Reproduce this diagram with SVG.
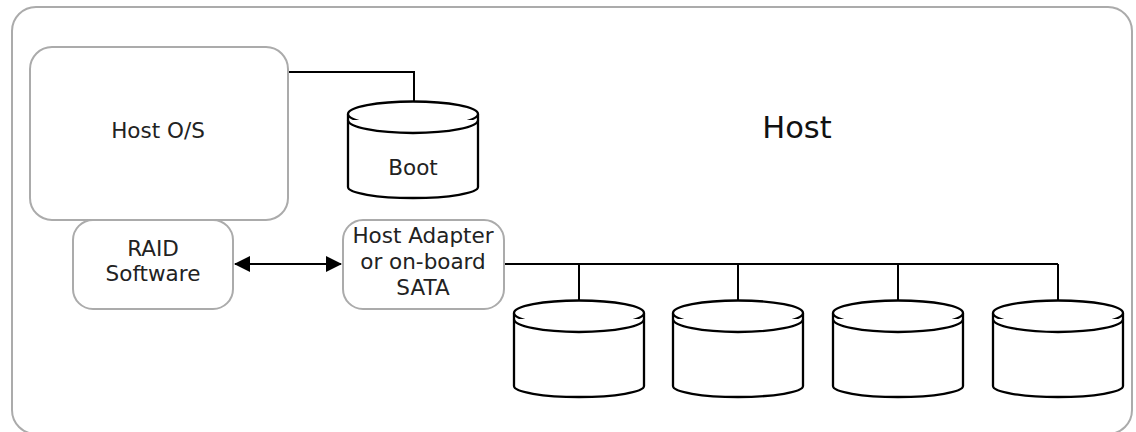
<svg xmlns="http://www.w3.org/2000/svg" width="1136" height="432" viewBox="0 0 1136 432">
<defs>
<style>
.box{fill:#fff;stroke:#ababab;stroke-width:2}
.ln{fill:none;stroke:#000;stroke-width:2}
.cyl{fill:#fff;stroke:#000;stroke-width:2.3}
.t{font-family:"DejaVu Sans",Verdana,sans-serif;font-size:21.5px;fill:#222;text-anchor:middle}
.big{font-size:30.5px;fill:#111}
</style>
<marker id="ah" viewBox="0 0 16 16" refX="15" refY="8" markerWidth="16" markerHeight="16" markerUnits="userSpaceOnUse" orient="auto-start-reverse">
<path d="M0,0 L16,8 L0,16 Z" fill="#000"/>
</marker>
<g id="cylshape">
<path class="cyl" d="M0,13 L0,86 A65,11 0 0 0 130,86 L130,13"/>
<ellipse class="cyl" cx="65" cy="13" rx="65" ry="12.5"/>
<path class="cyl" d="M0,19 A65,13 0 0 0 130,19"/>
</g>
</defs>
<g id="host">
<rect class="box" x="12" y="7" width="1120" height="427" rx="24"/>
<text class="t big" x="797" y="138">Host</text>
</g>
<g id="connectors">
<polyline class="ln" points="288,72 414,72 414,101"/>
<line class="ln" x1="235" y1="264" x2="341" y2="264" marker-start="url(#ah)" marker-end="url(#ah)"/>
<polyline class="ln" points="504,264 1058,264"/>
<line class="ln" x1="579" y1="264" x2="579" y2="300"/>
<line class="ln" x1="738" y1="264" x2="738" y2="300"/>
<line class="ln" x1="898" y1="264" x2="898" y2="300"/>
<line class="ln" x1="1058" y1="264" x2="1058" y2="300"/>
</g>
<g id="hostos">
<rect class="box" x="30" y="47" width="258" height="173" rx="22"/>
<text class="t" x="158" y="138">Host O/S</text>
</g>
<g id="boot">
<use href="#cylshape" x="348" y="101"/>
<text class="t" x="413" y="175">Boot</text>
</g>
<g id="raid">
<rect class="box" x="73" y="220" width="160" height="89" rx="20"/>
<text class="t" x="153" y="256">RAID</text>
<text class="t" x="153" y="281">Software</text>
</g>
<g id="adapter">
<rect class="box" x="343" y="220" width="161" height="89" rx="20"/>
<text class="t" x="423" y="243">Host Adapter</text>
<text class="t" x="423" y="269">or on-board</text>
<text class="t" x="423" y="295">SATA</text>
</g>
<g id="disk1"><use href="#cylshape" x="514" y="300"/></g>
<g id="disk2"><use href="#cylshape" x="673" y="300"/></g>
<g id="disk3"><use href="#cylshape" x="833" y="300"/></g>
<g id="disk4"><use href="#cylshape" x="993" y="300"/></g>
</svg>
